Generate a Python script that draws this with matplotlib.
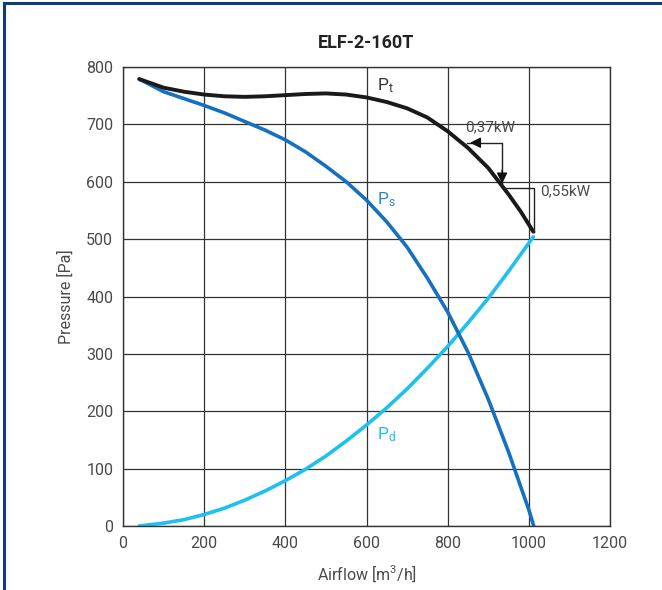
import numpy as np
import matplotlib.pyplot as plt
from matplotlib.lines import Line2D

plt.rcParams['font.family'] = ['Roboto', 'DejaVu Sans']
plt.rcParams['mathtext.default'] = 'regular'

# curves (airflow m3/h, pressure Pa)
q_pt = [40, 100, 150, 200, 250, 300, 350, 400, 450, 500, 550, 600, 650, 700,
        750, 800, 850, 900, 950, 980, 1011]
pt = [779, 764, 757, 752, 749, 748, 749, 751, 753, 754, 752, 747, 739, 728,
      712, 688, 659, 624, 578, 548, 513]

q_ps = [40, 100, 150, 200, 250, 300, 350, 400, 450, 500, 550, 600, 650, 700,
        750, 800, 850, 900, 950, 1000, 1012]
ps = [779, 757, 745, 733, 720, 705, 690, 673, 652, 627, 600, 568, 530, 486,
      432, 373, 303, 221, 129, 28, 0]

q_pd = [40, 100, 150, 200, 250, 300, 350, 400, 450, 500, 550, 600, 650, 700,
        750, 800, 850, 900, 950, 1011]
pd_ = [0, 5, 11, 20, 31, 45, 61, 79, 99, 122, 148, 176, 206, 239, 275, 313,
       354, 397, 444, 504]

# power step lines (x, y)
kw55_x = [1013, 1013, 934]
kw55_y = [513, 589, 589]
kw37_x = [934, 934, 848]
kw37_y = [592, 668, 668]

fig = plt.figure(figsize=(6.62, 5.9), dpi=100)
ax = fig.add_axes([0.1858, 0.1085, 0.7357, 0.7779])

txt = '#4a4a4a'
ax.set_xlim(0, 1200)
ax.set_ylim(0, 800)
ax.set_xticks(np.arange(0, 1201, 200))
ax.set_yticks(np.arange(0, 801, 100))
ax.grid(True, color='#333333', linewidth=0.9)
ax.set_axisbelow(True)
ax.tick_params(length=0, labelsize=11.5, labelcolor=txt, pad=7)
for s in ax.spines.values():
    s.set_color('#333333')
    s.set_linewidth(1.0)

line_kw = dict(solid_capstyle='round', solid_joinstyle='round')
ax.plot(q_pd, pd_, color='#1ec0f0', linewidth=2.6, **line_kw)
ax.plot(q_ps, ps, color='#1670bf', linewidth=2.6, **line_kw)
ax.plot(q_pt, pt, color='#1a1a1a', linewidth=2.8, **line_kw)

# step annotations
ax.plot(kw55_x, kw55_y, color='#222222', linewidth=1.0)
ax.plot(kw37_x, kw37_y, color='#222222', linewidth=1.0)
ax.annotate('', xy=(848, 668), xytext=(880, 668),
            arrowprops=dict(arrowstyle='-|>', color='#111111', lw=1.0, mutation_scale=16))
ax.annotate('', xy=(934, 592), xytext=(934, 625),
            arrowprops=dict(arrowstyle='-|>', color='#111111', lw=1.0, mutation_scale=16))
ax.text(843, 695, '0,37kW', fontsize=11, color=txt, va='center')
ax.text(1028, 584, '0,55kW', fontsize=11, color=txt, va='center')

ax.text(625, 768, r'P$_{t}$', fontsize=12.5, color='#333333', va='center')
ax.text(625, 568, r'P$_{s}$', fontsize=12.5, color='#2a86d0', va='center')
ax.text(625, 160, r'P$_{d}$', fontsize=12.5, color='#1ec0f0', va='center')

ax.set_xlabel(r'Airflow [m$^{3}$/h]', fontsize=11.5, color=txt, labelpad=9)
ax.set_ylabel('Pressure [Pa]', fontsize=11.5, color=txt, labelpad=9)
ax.set_title('ELF-2-160T', fontsize=13, fontweight='bold', color='#222222', pad=14)

# frame on left and top
fig.add_artist(Line2D([0.0065, 0.0065], [0, 0.995], color='#0d3d78', linewidth=2.2))
fig.add_artist(Line2D([0.0065, 1.0], [0.995, 0.995], color='#0d3d78', linewidth=2.2))

fig.savefig('out.png', dpi=100)
